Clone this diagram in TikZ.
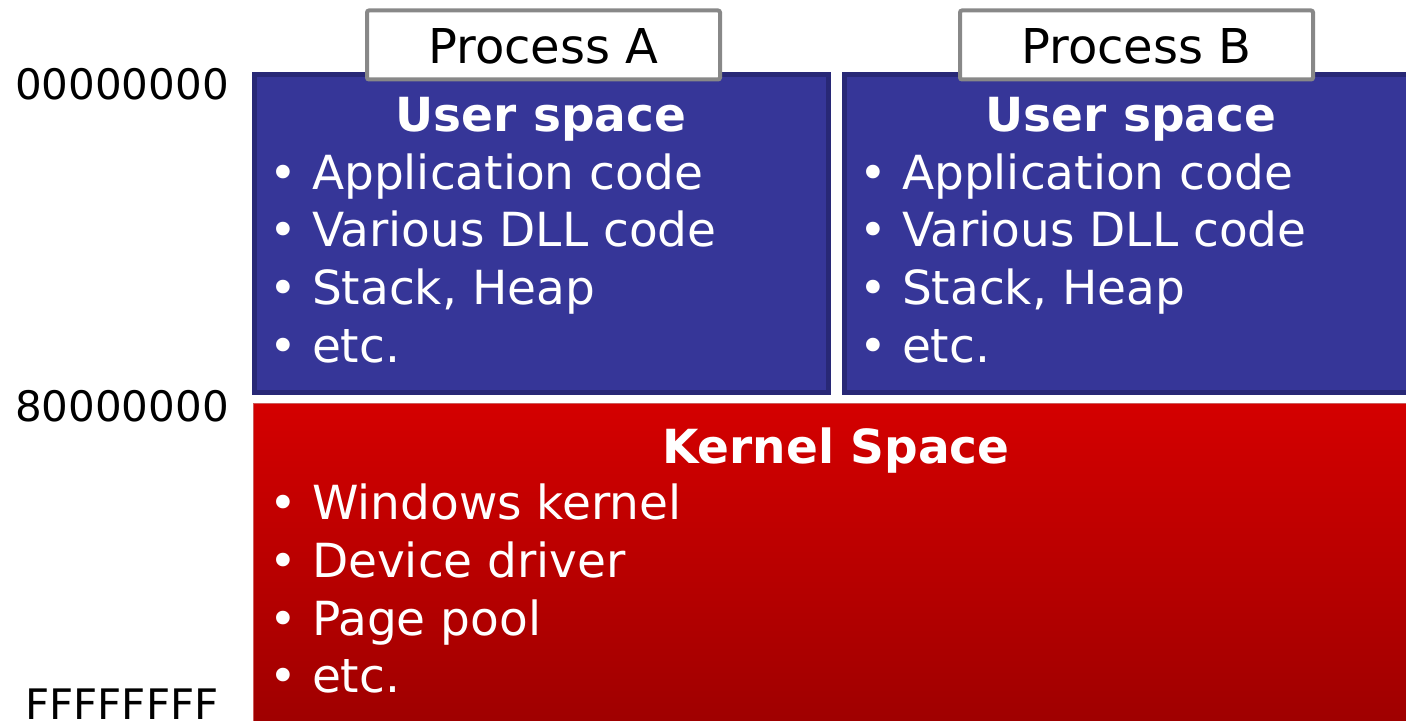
\documentclass[tikz,border=0pt]{standalone}
\usepackage{fontspec}
\setmainfont{DejaVu Sans}
\usetikzlibrary{positioning}
\definecolor{userblue}{RGB}{54,54,152}
\definecolor{userrim}{RGB}{40,40,118}
\definecolor{kerneltop}{RGB}{212,0,0}
\definecolor{kernelbot}{RGB}{158,0,0}
\definecolor{kernelrim}{RGB}{205,90,90}
\definecolor{procgray}{RGB}{136,136,136}

\begin{document}
\begin{tikzpicture}[x=0.5pt,y=-0.5pt,
    every node/.style={inner sep=0pt},
    addr/.style={anchor=base,font=\fontsize{21}{25}\selectfont},
    title/.style={anchor=base,font=\fontsize{24}{28}\selectfont},
    head/.style={anchor=base,text=white,font=\fontsize{23.5}{28}\selectfont\bfseries},
    item/.style={anchor=base west,text=white,font=\fontsize{23.5}{28}\selectfont},
    userbox/.style={draw=userrim,line width=2.5pt,fill=userblue},
    kernelbox/.style={draw=kernelrim,line width=0.5pt,top color=kerneltop,bottom color=kernelbot},
    procbox/.style={draw=procgray,line width=2pt,fill=white,rounded corners=1pt}
  ]
  \useasboundingbox (0,0) rectangle (1406,721);
  \clip (0,0) rectangle (1406,721);

  % the address marks
  \node[addr] (a0) at (122,100) {00000000};
  \node[addr] (a8) at (122,421) {80000000};
  \node[addr] (af) at (122,719) {FFFFFFFF};

  % the kernel space
  \draw[kernelbox] (253.5,403.5) rectangle (1430,730);
  \node[head] (kh) at (836,463) {Kernel Space};
  \foreach \t [count=\i] in {Windows kernel, Device driver, Page pool, etc.}
    \node[item] (k\i) at (269,462+57.7*\i) {\textbullet\ \t};

  % the user space of A and B
  \draw[userbox] (254.5,74.5) rectangle (828,392.5);
  \draw[userbox] (844.5,74.5) rectangle (1430,392.5);
  \node[head] (uAh) at (541,132) {User space};
  \node[head] (uBh) at (1131,132) {User space};
  \foreach \t [count=\i] in {Application code, Various DLL code, {Stack, Heap}, etc.}
  {
    \node[item] (uA\i) at (269,132+57.5*\i) {\textbullet\ \t};
    \node[item] (uB\i) at (859,132+57.5*\i) {\textbullet\ \t};
  }

  % the process tabs
  \draw[procbox] (367,10.5) rectangle (720,79.5);
  \node[title] (pA) at (543.5,64) {Process A};
  \draw[procbox] (960,10.5) rectangle (1313,79.5);
  \node[title] (pB) at (1136.5,64) {Process B};
\end{tikzpicture}
\end{document}
